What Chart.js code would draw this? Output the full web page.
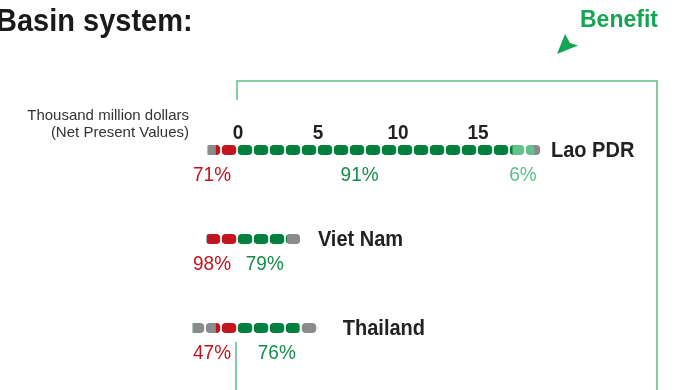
<!DOCTYPE html>
<html lang="en">
<head>
    <meta charset="UTF-8">
    <title>Basin system: costs and benefits</title>
    <style>
        body {
            margin: 0;
            background: #ffffff;
            font-family: 'Liberation Sans', Arial, sans-serif;
        }
        .wrap {
            position: relative;
            width: 675px;
            height: 390px;
            overflow: hidden;
        }
        .wrap canvas {
            position: absolute;
            left: 0;
            top: 0;
        }
        .title {
            position: absolute;
            left: -4px;
            top: 7px;
            font-size: 29px;
            line-height: 29px;
            font-weight: bold;
            color: #1a1a1a;
            white-space: nowrap;
            transform: scaleY(1.08);
            transform-origin: left bottom;
        }
        .benefit {
            position: absolute;
            left: 580px;
            top: 8px;
            font-size: 23px;
            line-height: 23px;
            font-weight: bold;
            color: #14a651;
            transform: scaleY(1.05);
            transform-origin: left bottom;
        }
        .units {
            position: absolute;
            right: 486px;
            top: 106px;
            font-size: 15px;
            line-height: 17px;
            color: #333333;
            text-align: right;
            white-space: nowrap;
        }
    </style>
</head>
<body>
    <div class="wrap">
        <canvas id="basinChart" width="675" height="390"></canvas>
        <div class="title">Basin system:</div>
        <div class="benefit">Benefit</div>
        <div class="units">Thousand million dollars<br>(Net Present Values)</div>
    </div>

    <script src="https://cdn.jsdelivr.net/npm/chart.js"></script>
    <script>
        // thousand million dollars, NPV
        const countries = ['Lao PDR', 'Viet Nam', 'Thailand'];
        const costMain = [-1.3, -1.85, -1.3];
        const costOther = [-0.53, -0.04, -1.45];
        const benefitMain = [17.2, 3.1, 3.85];
        const benefitExtra = [1.35, 0, 0];
        const benefitOther = [0.45, 0.83, 1.2];
        const tickValues = [0, 5, 10, 15];

        // percentage notes under each bar
        const costPct = ['71%', '98%', '47%'];
        const mainPct = ['91%', '79%', '76%'];
        const extraPct = ['6%', '', ''];

        const RED = '#c1141e';
        const GREEN = '#00803f';
        const LIGHT = '#63c18b';
        const GREY = '#8a8b8d';
        const LINE = '#5cbf87';
        const FONT = '"Liberation Sans", Arial, sans-serif';

        // text slightly taller than the font's own shape
        function tallText(ctx, text, x, y, sy) {
            ctx.save();
            ctx.translate(x, y);
            ctx.scale(1, sy);
            ctx.fillText(text, 0, 0);
            ctx.restore();
        }

        // clip bars into rounded one-unit pills
        const pillPlugin = {
            id: 'pills',
            beforeDatasetsDraw(chart) {
                const ctx = chart.ctx;
                const x = chart.scales.x;
                ctx.save();
                ctx.beginPath();
                countries.forEach((c, i) => {
                    const el = chart.getDatasetMeta(0).data[i];
                    const top = el.y - el.height / 2;
                    const lo = Math.floor(costMain[i] + costOther[i]);
                    const hi = Math.ceil(benefitMain[i] + benefitExtra[i] + benefitOther[i]);
                    for (let k = lo; k < hi; k++) {
                        const x0 = x.getPixelForValue(k) + 0.8;
                        const x1 = x.getPixelForValue(k + 1) - 0.8;
                        ctx.roundRect(x0, top, x1 - x0, el.height, 4);
                    }
                });
                ctx.clip();
            },
            afterDatasetsDraw(chart) {
                chart.ctx.restore();
            }
        };

        // ticks, country names, percentages and frame lines
        const labelPlugin = {
            id: 'labels',
            afterDraw(chart) {
                const ctx = chart.ctx;
                const x = chart.scales.x;
                const zero = x.getPixelForValue(0);
                ctx.save();

                // frame
                ctx.strokeStyle = LINE;
                ctx.lineWidth = 1.5;
                ctx.beginPath();
                ctx.moveTo(zero, 100);
                ctx.lineTo(zero, 81);
                ctx.lineTo(657, 81);
                ctx.lineTo(657, 390);
                ctx.moveTo(zero - 1, 342);
                ctx.lineTo(zero - 1, 390);
                ctx.stroke();

                // arrow head
                ctx.fillStyle = '#13a553';
                ctx.beginPath();
                ctx.moveTo(565, 34);
                ctx.lineTo(570, 43);
                ctx.lineTo(578, 45.5);
                ctx.lineTo(557, 54);
                ctx.closePath();
                ctx.fill();

                // axis numbers
                ctx.fillStyle = '#222222';
                ctx.font = 'bold 19px ' + FONT;
                ctx.textAlign = 'center';
                ctx.textBaseline = 'alphabetic';
                tickValues.forEach(v => {
                    tallText(ctx, String(v), x.getPixelForValue(v) + 1, 139, 1.05);
                });

                const nameDx = [10, 18, 25];
                const mainDx = [-15, 3, 9];
                const pctLeft = x.getPixelForValue(-2.75);
                countries.forEach((name, i) => {
                    const el = chart.getDatasetMeta(0).data[i];
                    const end = x.getPixelForValue(benefitMain[i] + benefitExtra[i] + benefitOther[i]);
                    const base = el.y + 6.5;

                    ctx.fillStyle = '#222222';
                    ctx.font = 'bold 20px ' + FONT;
                    ctx.textAlign = 'left';
                    tallText(ctx, name, end + nameDx[i], base, 1.1);

                    ctx.font = '19px ' + FONT;
                    const pctBase = el.y + 31;
                    ctx.fillStyle = RED;
                    ctx.textAlign = 'left';
                    tallText(ctx, costPct[i], pctLeft, pctBase, 1.05);

                    ctx.fillStyle = '#178c4b';
                    ctx.textAlign = 'center';
                    tallText(ctx, mainPct[i], x.getPixelForValue(benefitMain[i] / 2) + mainDx[i], pctBase, 1.05);

                    if (extraPct[i]) {
                        ctx.fillStyle = '#5cc08a';
                        const mid = benefitMain[i] + benefitExtra[i] / 2;
                        tallText(ctx, extraPct[i], x.getPixelForValue(mid), pctBase, 1.05);
                    }
                });
                ctx.restore();
            }
        };

        const chart = new Chart(document.getElementById('basinChart'), {
            type: 'bar',
            data: {
                labels: countries,
                datasets: [
                    { label: 'Cost', data: costMain, backgroundColor: RED },
                    { label: 'Cost, other', data: costOther, backgroundColor: GREY },
                    { label: 'Benefit', data: benefitMain, backgroundColor: GREEN },
                    { label: 'Benefit, extra', data: benefitExtra, backgroundColor: LIGHT },
                    { label: 'Benefit, other', data: benefitOther, backgroundColor: GREY }
                ]
            },
            options: {
                indexAxis: 'y',
                responsive: false,
                animation: false,
                devicePixelRatio: 1,
                layout: {
                    padding: { left: 157, right: 38, top: 150, bottom: 62 }
                },
                datasets: {
                    bar: { barThickness: 10, clip: false, borderWidth: 0 }
                },
                scales: {
                    x: { type: 'linear', stacked: true, min: -5, max: 25, display: false },
                    y: { stacked: true, offset: false, display: false }
                },
                plugins: {
                    legend: { display: false },
                    tooltip: { enabled: false }
                }
            },
            plugins: [pillPlugin, labelPlugin]
        });
    </script>
</body>
</html>
